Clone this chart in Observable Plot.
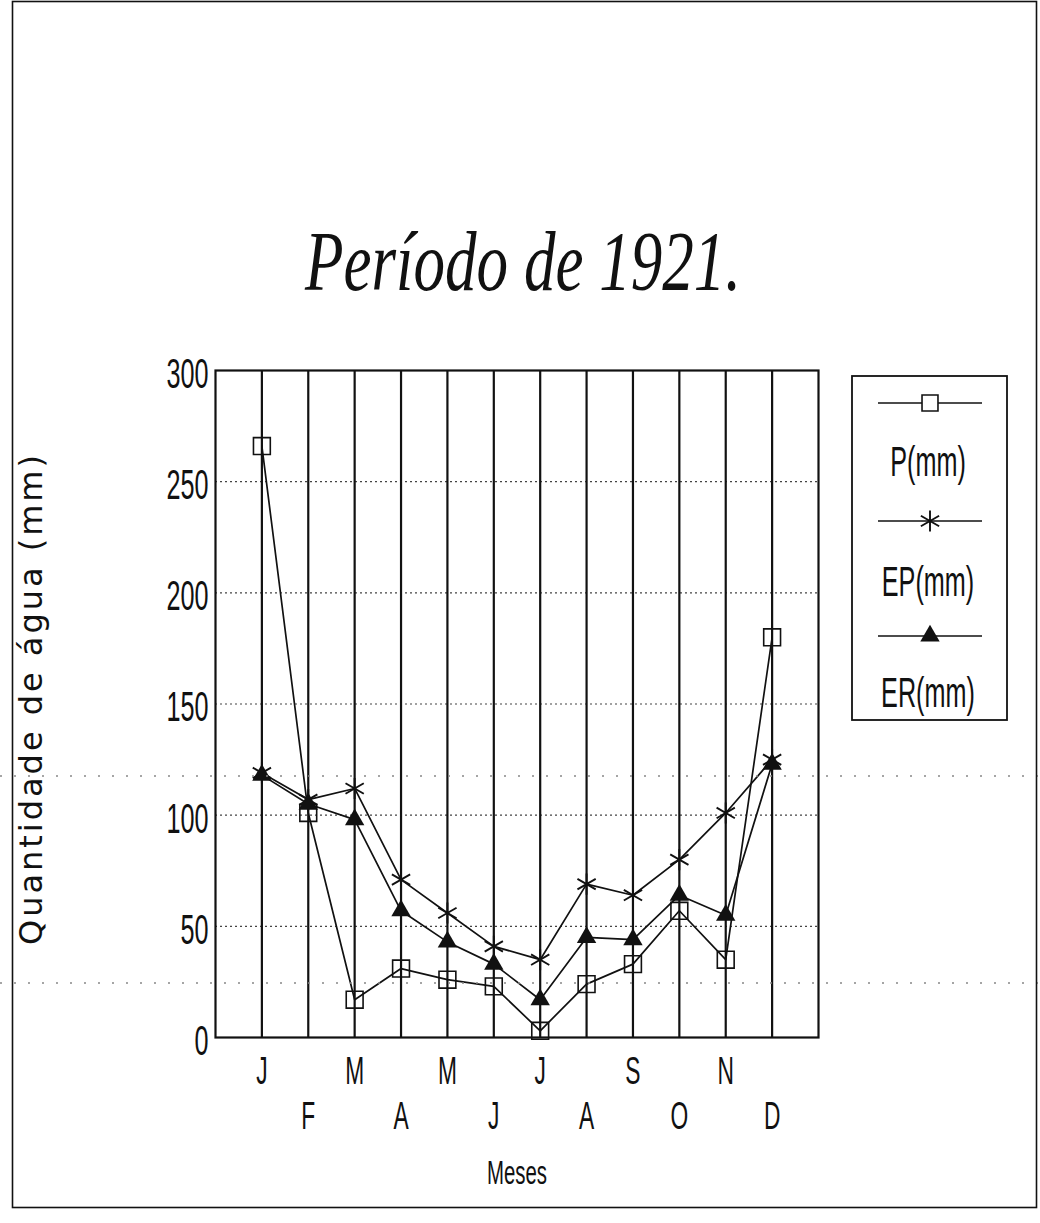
<!DOCTYPE html>
<html><head><meta charset="utf-8">
<script src="https://cdn.jsdelivr.net/npm/d3@7"></script>
<script src="https://cdn.jsdelivr.net/npm/@observablehq/plot@0.6"></script>
<style>
html,body{margin:0;padding:0;background:#fff;}
#page{position:relative;width:1040px;height:1223px;overflow:hidden;background:#fff;}
#page svg{position:absolute;left:0;top:0;}
</style></head><body><div id="page"></div>
<script>
// ---- data ----
const months = ["J","F","M","A","M","J","J","A","S","O","N","D"];
const P  = [266, 101, 17, 31, 26, 23,  3, 24, 33, 57, 35, 180];
const EP = [119, 107, 112, 71, 56, 41, 35, 69, 64, 80, 101, 125];
const ER = [118, 105, 98, 57, 43, 33, 17, 45, 44, 64, 55, 123];
const yTicks = [0, 50, 100, 150, 200, 250, 300];
const yGrid = [50, 100, 150, 200, 250];
const seriesNames = ["P(mm)", "EP(mm)", "ER(mm)"];
const titleText = "Período de 1921.";
const xTitle = "Meses";
const yTitle = "Quantidade de água (mm)";

const idx = months.map((m, i) => i + 1);
const table = months.flatMap((m, i) => [
  {series: "P", x: i + 1, y: P[i]},
  {series: "EP", x: i + 1, y: EP[i]},
  {series: "ER", x: i + 1, y: ER[i]}
]);
const ink = "#111";
const sans = "'Liberation Sans', Arial, sans-serif";

const chart = Plot.plot({
  width: 1040, height: 1223,
  marginLeft: 215, marginRight: 222, marginTop: 370, marginBottom: 186,
  x: {domain: [0, 13], axis: null},
  y: {domain: [0, 300], axis: null},
  style: {background: "transparent", color: ink},
  marks: [
    Plot.ruleY(yGrid, {stroke: "#444", strokeWidth: 1.1, strokeDasharray: "2,3"}),
    Plot.ruleX(idx, {y1: 0, y2: 300, stroke: ink, strokeWidth: 2.2}),
    Plot.frame({stroke: ink, strokeWidth: 2.2}),
    Plot.axisY(yTicks, {tickSize: 0, tickPadding: 7, fontSize: 42, dy: 4, fontFamily: sans, label: null}),
    Plot.text(months, {filter: (d, i) => i % 2 === 0, x: (d, i) => i + 1, frameAnchor: "bottom", dy: 46, fontSize: 38, fontFamily: sans}),
    Plot.text(months, {filter: (d, i) => i % 2 === 1, x: (d, i) => i + 1, frameAnchor: "bottom", dy: 91, fontSize: 38, fontFamily: sans}),
    Plot.text([xTitle], {frameAnchor: "bottom", x: 6.5, dy: 146, fontSize: 34, fontFamily: sans}),
    Plot.line(table, {x: "x", y: "y", z: "series", stroke: ink, strokeWidth: 1.7}),
    Plot.dot(table.filter(d => d.series === "P"), {x: "x", y: "y", symbol: "square", r: 9.5, fill: "none", stroke: ink, strokeWidth: 1.6}),
    Plot.dot(table.filter(d => d.series === "EP"), {x: "x", y: "y", symbol: "asterisk", r: 10, stroke: ink, strokeWidth: 1.9}),
    Plot.dot(table.filter(d => d.series === "ER"), {x: "x", y: "y", symbol: "triangle", r: 7.2, fill: ink, stroke: "none"})
  ]
});
const page = document.getElementById("page");
page.appendChild(chart);

function squeeze(sel, f) {
  sel.each(function () {
    const w = this.getComputedTextLength();
    if (w > 0) { this.setAttribute("textLength", w * f); this.setAttribute("lengthAdjust", "spacingAndGlyphs"); }
  });
}
squeeze(d3.select(chart).selectAll("text"), 0.6);

// ---- overlay: page frame, title, y title, legend ----
const ov = d3.select(page).append("svg").attr("width", 1040).attr("height", 1223);
// scan-like dotted lines
[776, 983].forEach(y => ov.append("line").attr("x1", 0).attr("x2", 1040).attr("y1", y).attr("y2", y)
  .attr("stroke", "#888").attr("stroke-width", 1.3).attr("stroke-dasharray", "2,12"));
ov.append("rect").attr("x", 12.5).attr("y", 1.5).attr("width", 1024).attr("height", 1206)
  .attr("fill", "none").attr("stroke", ink).attr("stroke-width", 1.6);

ov.append("text").text(titleText).attr("x", 523).attr("y", 290).attr("text-anchor", "middle")
  .attr("font-family", "'Liberation Serif', 'DejaVu Serif', serif").attr("font-style", "italic")
  .attr("font-size", 84).attr("fill", ink).attr("textLength", 436).attr("lengthAdjust", "spacingAndGlyphs");

ov.append("text").text(yTitle).attr("transform", "translate(42,700) rotate(-90)").attr("text-anchor", "middle")
  .attr("font-family", "'DejaVu Sans', sans-serif").attr("font-size", 32).attr("fill", ink)
  .attr("textLength", 490).attr("lengthAdjust", "spacing");

// legend
const lg = ov.append("g");
lg.append("rect").attr("x", 852).attr("y", 376).attr("width", 155).attr("height", 344)
  .attr("fill", "#fff").attr("stroke", ink).attr("stroke-width", 1.8);
const lineYs = [403, 521, 636];
const textBase = [476, 596, 707];
const syms = [d3.symbolSquare, d3.symbolAsterisk, d3.symbolTriangle];
const rs = [9, 10, 7.2];
seriesNames.forEach((name, k) => {
  lg.append("line").attr("x1", 878).attr("x2", 982).attr("y1", lineYs[k]).attr("y2", lineYs[k])
    .attr("stroke", ink).attr("stroke-width", 1.6);
  const p = lg.append("path").attr("d", d3.symbol(syms[k], Math.PI * rs[k] * rs[k])())
    .attr("transform", `translate(930,${lineYs[k]})`);
  if (k === 0) p.attr("fill", "#fff").attr("stroke", ink).attr("stroke-width", 1.6);
  else if (k === 1) p.attr("fill", "none").attr("stroke", ink).attr("stroke-width", 1.9);
  else p.attr("fill", ink);
  lg.append("text").text(name).attr("x", 928).attr("y", textBase[k])
    .attr("text-anchor", "middle").attr("font-family", sans).attr("font-size", 42).attr("fill", ink)
    .attr("class", "sq");
});
squeeze(lg.selectAll("text.sq"), 0.6);
</script>
</body></html>
